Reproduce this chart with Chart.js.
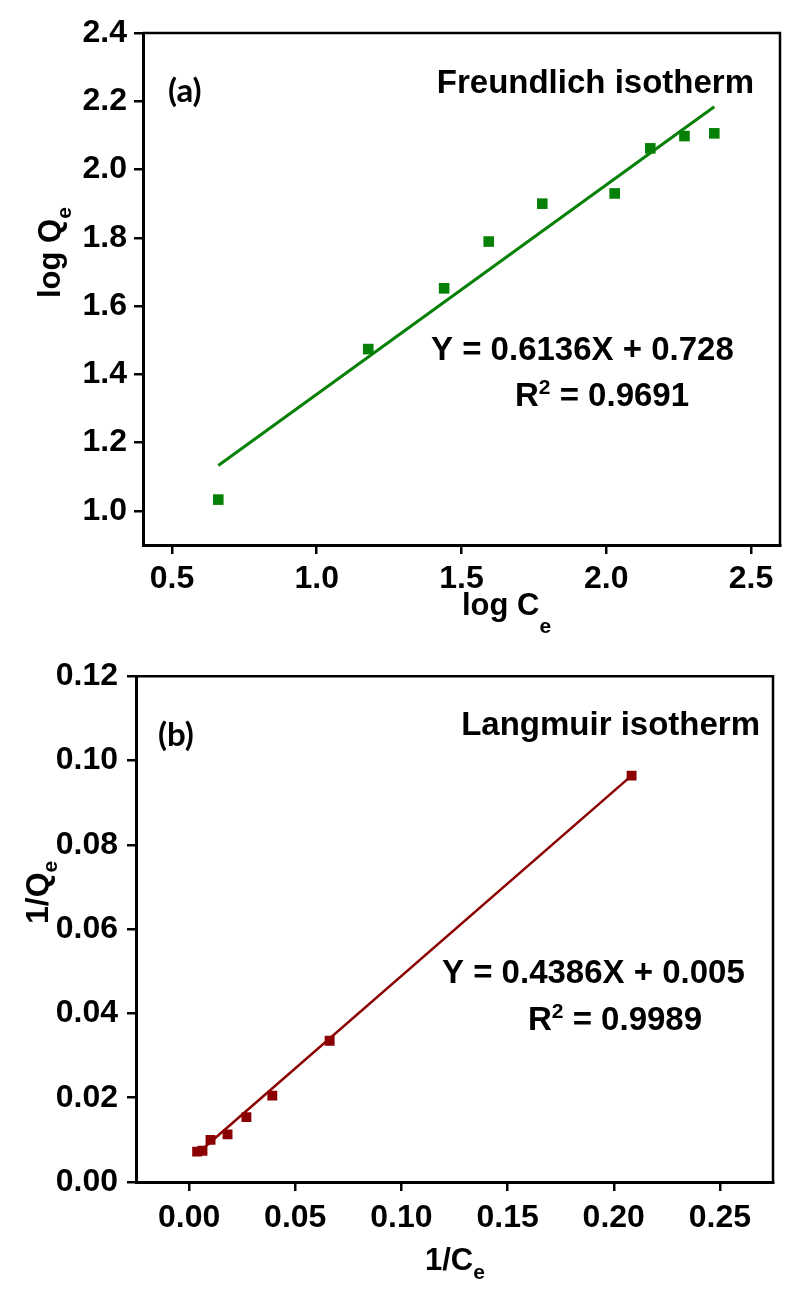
<!DOCTYPE html>
<html><head><meta charset="utf-8">
<script src="https://cdn.jsdelivr.net/npm/chart.js@4.4.1/dist/chart.umd.min.js"></script>
<style>
html,body{margin:0;padding:0;background:#fff;}
#wrap{position:relative;width:798px;height:1296px;background:#fff;}
.box{position:absolute;left:0;width:798px;height:648px;}
</style></head><body>
<div id="wrap">
<div class="box" style="top:0"><canvas id="c1" width="798" height="648"></canvas></div>
<div class="box" style="top:648px"><canvas id="c2" width="798" height="648"></canvas></div>
</div>
<script>
// ---- Data: (a) Freundlich isotherm ----
const freundlichLogCe = [0.66, 1.178, 1.44, 1.594, 1.779, 2.029, 2.152, 2.270, 2.373];
const freundlichLogQe = [1.033, 1.474, 1.652, 1.789, 1.900, 1.930, 2.062, 2.098, 2.106];
const freundlichFitX = [0.66, 2.373];
const freundlichFitY = [1.133, 2.184];
const freundlichXTicks = [0.5, 1.0, 1.5, 2.0, 2.5];
const freundlichYTicks = [1.0, 1.2, 1.4, 1.6, 1.8, 2.0, 2.2, 2.4];

// ---- Data: (b) Langmuir isotherm ----
const langmuirInvCe = [0.0038, 0.0063, 0.0101, 0.0181, 0.027, 0.0392, 0.0662, 0.2084];
const langmuirInvQe = [0.0072, 0.0074, 0.0100, 0.0113, 0.0154, 0.0205, 0.0335, 0.0964];
const langmuirFitX = [0.0038, 0.2084];
const langmuirFitY = [0.0067, 0.0964];
const langmuirXTicks = [0.00, 0.05, 0.10, 0.15, 0.20, 0.25];
const langmuirYTicks = [0.00, 0.02, 0.04, 0.06, 0.08, 0.10, 0.12];

const ARIAL = "'Liberation Sans', Arial, sans-serif";
const CALIBRI = "Lato, 'Open Sans', sans-serif";

function pts(xs, ys) { return xs.map((x, i) => ({ x: x, y: ys[i] })); }

function drawRuns(ctx, x, y, runs) {
  let cx = x;
  ctx.textAlign = 'left';
  ctx.textBaseline = 'alphabetic';
  for (const r of runs) {
    ctx.font = 'bold ' + r.size + 'px ' + (r.family || ARIAL);
    ctx.fillText(r.t, cx, y + (r.dy || 0));
    cx += ctx.measureText(r.t).width;
  }
  return cx;
}
function runsWidth(ctx, runs) {
  let w = 0;
  for (const r of runs) { ctx.font = 'bold ' + r.size + 'px ' + (r.family || ARIAL); w += ctx.measureText(r.t).width; }
  return w;
}

function makeChart(canvas, cfg) {
  const boxPlugin = {
    id: 'box',
    afterDraw(chart) {
      const ctx = chart.ctx, a = chart.chartArea;
      ctx.save();
      ctx.strokeStyle = '#000';
      ctx.lineWidth = 2.5;
      ctx.beginPath();
      ctx.moveTo(a.left, a.top); ctx.lineTo(a.right, a.top); ctx.lineTo(a.right, a.bottom);
      ctx.stroke();
      ctx.fillStyle = '#000';
      cfg.annotate(ctx);
      ctx.restore();
    }
  };
  const tickFont = { family: ARIAL, weight: 'bold', size: 32 };
  return new Chart(canvas, {
    type: 'scatter',
    data: {
      datasets: [
        { data: pts(cfg.xs, cfg.ys), pointStyle: 'rect', pointRadius: cfg.pr, backgroundColor: cfg.color,
          borderColor: cfg.color, borderWidth: 0, showLine: false },
        { data: pts(cfg.fx, cfg.fy), showLine: true, pointRadius: 0, borderColor: cfg.color,
          borderWidth: cfg.lw, backgroundColor: cfg.color }
      ]
    },
    options: {
      responsive: false, animation: false, devicePixelRatio: 1,
      layout: { padding: cfg.padding },
      plugins: { legend: { display: false }, tooltip: { enabled: false } },
      scales: {
        x: {
          type: 'linear', position: 'bottom', min: cfg.xmin, max: cfg.xmax,
          afterBuildTicks: s => { s.ticks = cfg.xticks.map(v => ({ value: v })); },
          afterFit: s => { s.height = cfg.xh; },
          ticks: { font: tickFont, color: '#000', padding: cfg.xpad, autoSkip: false, maxRotation: 0,
                   callback: v => Number(v).toFixed(cfg.xd) },
          grid: { drawOnChartArea: false, drawTicks: true, tickLength: 9, color: '#000', lineWidth: 2.5 },
          border: { display: true, color: '#000', width: 3 }
        },
        y: {
          type: 'linear', position: 'left', min: cfg.ymin, max: cfg.ymax,
          afterBuildTicks: s => { s.ticks = cfg.yticks.map(v => ({ value: v })); },
          afterFit: s => { s.width = cfg.yw; },
          ticks: { font: tickFont, color: '#000', padding: cfg.ypad, autoSkip: false,
                   callback: v => Number(v).toFixed(cfg.yd) },
          grid: { drawOnChartArea: false, drawTicks: true, tickLength: 9, color: '#000', lineWidth: 2.5 },
          border: { display: true, color: '#000', width: 3 }
        }
      }
    },
    plugins: [boxPlugin]
  });
}

// (a) Freundlich
makeChart(document.getElementById('c1'), {
  xs: freundlichLogCe, ys: freundlichLogQe, fx: freundlichFitX, fy: freundlichFitY,
  color: '#068006', pr: 7.5, lw: 3,
  xmin: 0.4, xmax: 2.6, ymin: 0.9, ymax: 2.4,
  xticks: freundlichXTicks, yticks: freundlichYTicks, xd: 1, yd: 1,
  padding: { top: 33, right: 18, left: 0, bottom: 0 }, xh: 103, yw: 143, ypad: 7, xpad: 6,
  annotate(ctx) {
    drawRuns(ctx, 168, 102, [{ t: '(a)', size: 33, family: CALIBRI }]);
    const t1 = [{ t: 'Freundlich isotherm', size: 33 }];
    drawRuns(ctx, 754 - runsWidth(ctx, t1), 93, t1);
    drawRuns(ctx, 431, 360, [{ t: 'Y = 0.6136X + 0.728', size: 33 }]);
    drawRuns(ctx, 515, 406, [{ t: 'R', size: 33 }, { t: '2', size: 21, dy: -12 }, { t: ' = 0.9691', size: 33 }]);
    drawRuns(ctx, 462, 615, [{ t: 'log C', size: 31 }, { t: 'e', size: 21, dy: 18 }]);
    ctx.save();
    ctx.translate(60, 298);
    ctx.rotate(-Math.PI / 2);
    drawRuns(ctx, 0, 0, [{ t: 'log Q', size: 31 }, { t: 'e', size: 21, dy: 11 }]);
    ctx.restore();
  }
});

// (b) Langmuir
makeChart(document.getElementById('c2'), {
  xs: langmuirInvCe, ys: langmuirInvQe, fx: langmuirFitX, fy: langmuirFitY,
  color: '#8b0000', pr: 7, lw: 2.5,
  xmin: -0.025, xmax: 0.275, ymin: 0, ymax: 0.12,
  xticks: langmuirXTicks, yticks: langmuirYTicks, xd: 2, yd: 2,
  padding: { top: 23, right: 25, left: 0, bottom: 0 }, xh: 114, yw: 136, ypad: 9, xpad: 8,
  annotate(ctx) {
    drawRuns(ctx, 158, 98, [{ t: '(b)', size: 33, family: CALIBRI }]);
    const t1 = [{ t: 'Langmuir isotherm', size: 33 }];
    drawRuns(ctx, 760 - runsWidth(ctx, t1), 87, t1);
    drawRuns(ctx, 442, 335, [{ t: 'Y = 0.4386X + 0.005', size: 33 }]);
    drawRuns(ctx, 528, 382, [{ t: 'R', size: 33 }, { t: '2', size: 21, dy: -12 }, { t: ' = 0.9989', size: 33 }]);
    drawRuns(ctx, 425, 622, [{ t: '1/C', size: 31 }, { t: 'e', size: 21, dy: 9 }]);
    ctx.save();
    ctx.translate(48, 276);
    ctx.rotate(-Math.PI / 2);
    drawRuns(ctx, 0, 0, [{ t: '1/Q', size: 32 }, { t: 'e', size: 21, dy: 9 }]);
    ctx.restore();
  }
});
</script>
</body></html>
